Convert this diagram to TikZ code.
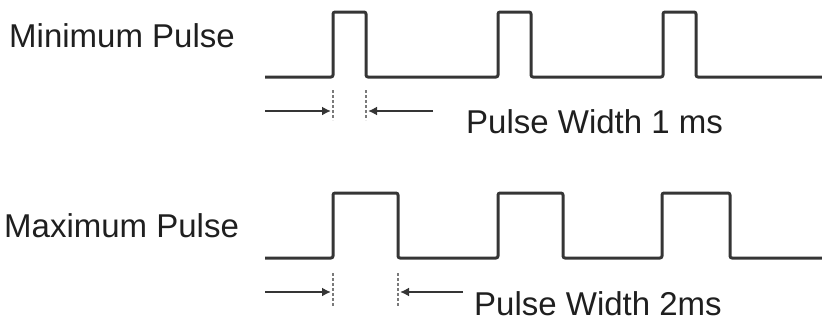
\documentclass[tikz,border=0pt]{standalone}
\usepackage{fontspec}
\setmainfont{Liberation Sans}
\usetikzlibrary{arrows.meta}
\definecolor{wave}{HTML}{353535}
\definecolor{guide}{HTML}{7A7A7A}
\tikzset{
  wavepath/.style={draw=wave, line width=3pt, rounded corners=2pt, line join=round},
  guideline/.style={draw=guide, line width=1.6pt, dash pattern=on 2.5pt off 2.5pt},
  measarrow/.style={draw=wave, line width=2pt, -{Latex[length=9pt,width=9pt]}},
  lbl/.style={anchor=base west, inner sep=0pt, font=\fontsize{33}{36}\selectfont, text=black!88}
}
\begin{document}
\begin{tikzpicture}[x=1pt,y=-1pt]
\useasboundingbox (0,0) rectangle (822,322);
% labels
\node[lbl] (tmin) at (9,47) {Minimum Pulse};
\node[lbl] (tw1) at (466,133) {Pulse Width 1 ms};
\node[lbl] (tmax) at (4,237) {Maximum Pulse};
\node[lbl] (tw2) at (474,315) {Pulse Width 2ms};
% top waveform
\draw[wavepath] (265,77) -- (333,77) -- (333,12) -- (366,12) -- (366,77)
  -- (498,77) -- (498,12) -- (531,12) -- (531,77)
  -- (663,77) -- (663,12) -- (696,12) -- (696,77) -- (823,77);
% bottom waveform
\draw[wavepath] (265,258) -- (333,258) -- (333,193) -- (398,193) -- (398,258)
  -- (498,258) -- (498,193) -- (563,193) -- (563,258)
  -- (662,258) -- (662,193) -- (730,193) -- (730,258) -- (823,258);
% guides
\draw[guideline] (333,90) -- (333,120);
\draw[guideline] (366,90) -- (366,120);
\draw[guideline] (333,273) -- (333,307);
\draw[guideline] (398,273) -- (398,307);
% arrows
\coordinate (a1s) at (265,111); \coordinate (a1e) at (331,111);
\coordinate (a2s) at (433,111); \coordinate (a2e) at (368,111);
\coordinate (b1s) at (265,292); \coordinate (b1e) at (331,292);
\coordinate (b2s) at (463,292); \coordinate (b2e) at (400,292);
\draw[measarrow] (a1s) -- (a1e);
\draw[measarrow] (a2s) -- (a2e);
\draw[measarrow] (b1s) -- (b1e);
\draw[measarrow] (b2s) -- (b2e);
\end{tikzpicture}
\end{document}
